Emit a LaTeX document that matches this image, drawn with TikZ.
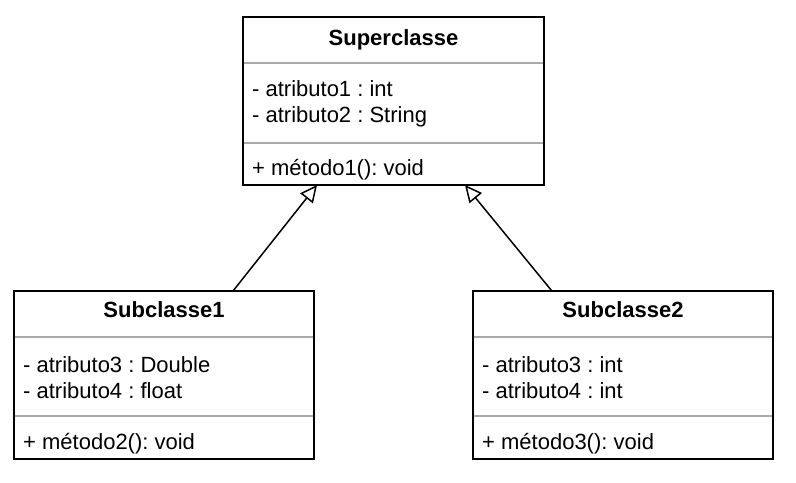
\documentclass[tikz,border=0pt]{standalone}
\usepackage{fontspec}
\setmainfont{Liberation Sans}
\usetikzlibrary{arrows.meta,calc}
\definecolor{sepgray}{RGB}{170,170,170}
\tikzset{
  classbox/.style={draw=black, line width=1.5bp, fill=white, rectangle, outer sep=0pt, inner sep=0pt, minimum width=#1, minimum height=168bp},
  title/.style={anchor=base, inner sep=0pt, font=\fontsize{22bp}{26bp}\selectfont\bfseries\frenchspacing},
  member/.style={anchor=base west, inner sep=0pt, font=\fontsize{22bp}{26bp}\selectfont\frenchspacing},
  sepline/.style={draw=sepgray, line width=1.5bp},
  inherit/.style={line width=1.5bp, -{Triangle[open, length=17bp 0 0, width=16bp 0 0, fill=white, line join=miter]}}
}
\begin{document}
\frenchspacing
\begin{tikzpicture}[x=1bp, y=-1bp]
\useasboundingbox (0,0) rectangle (796,483);

% Superclasse
\node[classbox=301bp] (super) at (393.5,101) {};
\draw[sepline] ($(super.north west)+(1,46)$) -- ($(super.north east)+(-1,46)$);
\draw[sepline] ($(super.north west)+(1,126)$) -- ($(super.north east)+(-1,126)$);
\node[title] (superT) at ($(super.north)+(0,29)$) {Superclasse};
\node[member] (superA1) at ($(super.north west)+(9,80)$) {- atributo1 : int};
\node[member] (superA2) at ($(super.north west)+(9,106)$) {- atributo2 : String};
\node[member] (superM1) at ($(super.north west)+(9,159)$) {+ método1(): void};

% Subclasse1
\node[classbox=300bp] (sub1) at (164,375) {};
\draw[sepline] ($(sub1.north west)+(1,46)$) -- ($(sub1.north east)+(-1,46)$);
\draw[sepline] ($(sub1.north west)+(1,125)$) -- ($(sub1.north east)+(-1,125)$);
\node[title] (sub1T) at ($(sub1.north)+(0,27)$) {Subclasse1};
\node[member] (sub1A1) at ($(sub1.north west)+(9,81)$) {- atributo3 : Double};
\node[member] (sub1A2) at ($(sub1.north west)+(9,107)$) {- atributo4 : float};
\node[member] (sub1M1) at ($(sub1.north west)+(9,158)$) {+ método2(): void};

% Subclasse2
\node[classbox=300bp] (sub2) at (623,375) {};
\draw[sepline] ($(sub2.north west)+(1,46)$) -- ($(sub2.north east)+(-1,46)$);
\draw[sepline] ($(sub2.north west)+(1,125)$) -- ($(sub2.north east)+(-1,125)$);
\node[title] (sub2T) at ($(sub2.north)+(0,27)$) {Subclasse2};
\node[member] (sub2A1) at ($(sub2.north west)+(9,81)$) {- atributo3 : int};
\node[member] (sub2A2) at ($(sub2.north west)+(9,107)$) {- atributo4 : int};
\node[member] (sub2M1) at ($(sub2.north west)+(9,158)$) {+ método3(): void};

% Inheritance
\draw[inherit] ($(sub1.north west)!0.73!(sub1.north east)$) -- ($(super.south west)!0.246!(super.south east)$);
\draw[inherit] ($(sub2.north west)!0.263!(sub2.north east)$) -- ($(super.south west)!0.7375!(super.south east)$);
\end{tikzpicture}
\end{document}
